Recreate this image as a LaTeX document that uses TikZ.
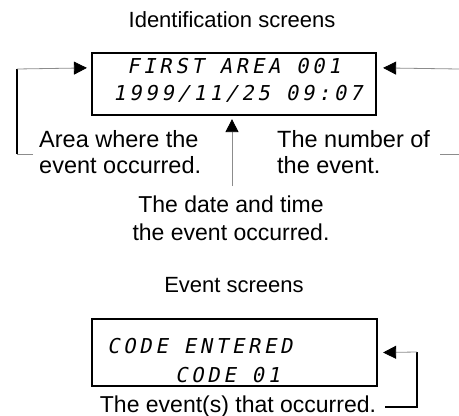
\documentclass[tikz,border=0pt]{standalone}
\usepackage{fontspec}
\setmainfont{Liberation Sans}
\newfontfamily\lcdfont{DejaVu Sans Mono}[FakeSlant=0.2,LetterSpace=18]
\usetikzlibrary{arrows.meta}
\begin{document}
\begin{tikzpicture}[x=1pt,y=-1pt,
  lbl/.style={inner sep=0pt,font=\fontsize{22}{26}\selectfont},
  sidelbl/.style={inner sep=0pt,font=\fontsize{23.5}{26}\selectfont},
  lcd/.style={inner sep=0pt,anchor=base west,font=\fontsize{20.5}{24}\selectfont\lcdfont},
  screen/.style={draw=black,line width=2.2pt,inner sep=0pt},
  thin/.style={draw=black!45,line width=0.8pt},
  thick/.style={draw=black,line width=2.2pt},
  tip/.style={-{Triangle[length=13pt,width=13pt,color=black]}}
]
\useasboundingbox (0,0) rectangle (459,416);

% titles
\node[lbl,anchor=base] (t1) at (232,27) {Identification screens};
\node[lbl,anchor=base] (t2) at (234,292) {Event screens};

% identification screen
\node[screen,minimum width=284pt,minimum height=62pt] (idbox) at (234,84) {};
\node[lcd] (id1) at (127,73) {FIRST AREA 001};
\node[lcd] (id2) at (113,100) {1999/11/25 09:07};

% labels (base = baseline of last line)
\node[sidelbl,anchor=base west,align=left] (area) at (39,173) {Area where the\\event occurred.};
\node[sidelbl,anchor=base west,align=left] (num) at (277,173) {The number of\\the event.};
\node[lbl,anchor=base,align=center,font=\fontsize{23}{28}\selectfont] (date) at (231,240) {The date and time\\the event occurred.};

% left connector
\coordinate (lA) at (33,154);
\coordinate (lB) at (17,154);
\coordinate (lC) at (17,69);
\draw[thin] (lA) -- (lB);
\draw[thick] (lB) -- (lC);
\draw[thin,tip] (lC) -- ([xshift=-4pt,yshift=-16pt]idbox.north west);

% right connector
\coordinate (rA) at (459,69);
\draw[thin,tip] (rA) -- ([xshift=6pt,yshift=-16pt]idbox.north east);
\coordinate (rB) at (440,154);
\coordinate (rC) at (459,154);
\draw[thin] (rB) -- (rC);

% middle connector
\coordinate (midTip) at ([yshift=-3pt]idbox.south);
\coordinate (midStart) at ([xshift=1pt,yshift=9pt]date.north);
\draw[thin,tip] (midStart) -- (midStart |- midTip);

% event screen
\node[screen,minimum width=285pt,minimum height=67pt] (evbox) at (234.5,352.5) {};
\node[lcd] (ev1) at (107,353) {CODE ENTERED};
\node[lcd] (ev2) at (175,382) {CODE 01};

\node[lbl,anchor=base,font=\fontsize{23}{26}\selectfont] (evl) at (238,412) {The event(s) that occurred.};

\coordinate (eA) at (385,407);
\coordinate (eB) at (417,407);
\coordinate (eC) at (417,352);
\draw[thick] (eA) -- (eB) -- (eC);
\draw[thin,tip] (eC) -- ([xshift=5pt]evbox.east);
\end{tikzpicture}
\end{document}
